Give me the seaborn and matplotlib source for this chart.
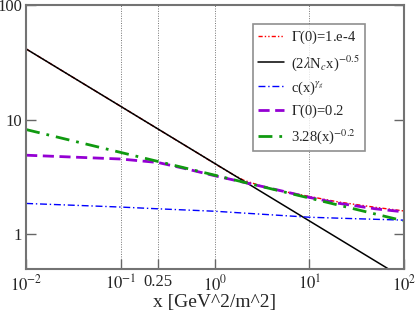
import numpy as np
import pandas as pd
import matplotlib
matplotlib.use("Agg")
import matplotlib.pyplot as plt
import seaborn as sns

# values (log-log axes)
x_red = [0.01, 0.1, 0.25, 0.5, 0.7, 1.0, 1.5, 2.0, 3.0, 5.0, 10.0, 20.0, 50.0, 100.0]
y_red = [41.4, 13.1, 8.28, 5.85, 4.95, 4.12, 3.38, 2.97, 2.66, 2.39, 2.14, 1.92, 1.72, 1.60]

x_black = [0.01, 100.0]
y_black = [41.4, 0.414]

x_blue = [0.01, 0.1, 0.25, 1.0, 10.0, 30.0, 100.0]
y_blue = [1.86, 1.73, 1.67, 1.59, 1.41, 1.37, 1.33]

x_purple = [0.01, 0.1, 0.25, 0.5, 1.0, 2.0, 5.0, 10.0, 20.0, 50.0, 100.0]
y_purple = [4.90, 4.54, 4.23, 3.72, 3.24, 2.85, 2.40, 2.10, 1.87, 1.67, 1.57]

x_green = [0.01, 100.0]
y_green = [8.2, 1.31]

labels = [r"$\Gamma$(0)=1.e-4", r"(2$\lambda$N$_c$x)$^{-0.5}$", r"c(x)$^{\gamma_g}$",
          r"$\Gamma$(0)=0.2", r"3.28(x)$^{-0.2}$"]
vlines = [0.1, 0.25, 1.0, 10.0]
xtick_vals = [0.01, 0.1, 0.25, 1.0, 10.0, 100.0]
xtick_labels = [r"$10^{-2}$", r"$10^{-1}$", "0.25", r"$10^{0}$", r"$10^{1}$", r"$10^{2}$"]
ytick_vals = [1, 10, 100]
ytick_labels = ["1", "10", "100"]

sns.set_style("ticks")
plt.rcParams["font.family"] = ["Liberation Serif", "DejaVu Serif"]
plt.rcParams["mathtext.fontset"] = "stix"

fig = plt.figure(figsize=(4.15, 3.13), dpi=100)
ax = fig.add_axes([0.063, 0.141, 0.91, 0.843])

for v in vlines:
    ax.axvline(v, color="0.45", lw=0.7, ls=(0, (1, 1.5)), zorder=0)

sns.lineplot(x=x_red, y=y_red, ax=ax, color="red", lw=1.0,
             linestyle=(0, (3, 1.5, 1, 1.5, 1, 1.5)), label=labels[0])
sns.lineplot(x=x_black, y=y_black, ax=ax, color="black", lw=1.1,
             linestyle="-", label=labels[1])
sns.lineplot(x=x_blue, y=y_blue, ax=ax, color="blue", lw=1.0,
             linestyle=(0, (5, 2, 1, 2)), label=labels[2])
sns.lineplot(x=x_purple, y=y_purple, ax=ax, color="darkviolet", lw=2.0,
             linestyle=(0, (4, 2)), label=labels[3])
sns.lineplot(x=x_green, y=y_green, ax=ax, color="#109a10", lw=2.0,
             linestyle=(0, (5, 2.5, 1, 2.5)), label=labels[4])

ax.set_xscale("log")
ax.set_yscale("log")
ax.set_xlim(0.01, 100)
ax.set_ylim(0.5, 100)
ax.set_xticks(xtick_vals)
ax.set_xticklabels(xtick_labels)
ax.set_yticks(ytick_vals)
ax.set_yticklabels(ytick_labels)
ax.xaxis.set_minor_locator(matplotlib.ticker.NullLocator())
ax.yaxis.set_minor_locator(matplotlib.ticker.NullLocator())
ax.tick_params(direction="in", length=7, width=1, color="0.4", labelsize=12,
               top=False, right=True)
ax.tick_params(axis="x", pad=4)
ax.tick_params(axis="y", pad=3)
for s in ax.spines.values():
    s.set_color("0.45")
    s.set_linewidth(1.5)

# top y label sits a bit low in the original, keeps it inside the figure
ax.get_yticklabels()[-1].set_va("center_baseline")

ax.set_xlabel("x [GeV^2/m^2]", fontsize=14, labelpad=0)
ax.set_ylabel("")

leg = ax.legend(loc="upper right", bbox_to_anchor=(0.897, 0.928), fontsize=10.5,
                frameon=True, fancybox=False, handlelength=1.8, handletextpad=0.5,
                labelspacing=0.45, borderpad=0.35, borderaxespad=0)
leg.get_frame().set_edgecolor("0.45")
leg.get_frame().set_linewidth(1.2)

fig.savefig("out.png", dpi=100)
